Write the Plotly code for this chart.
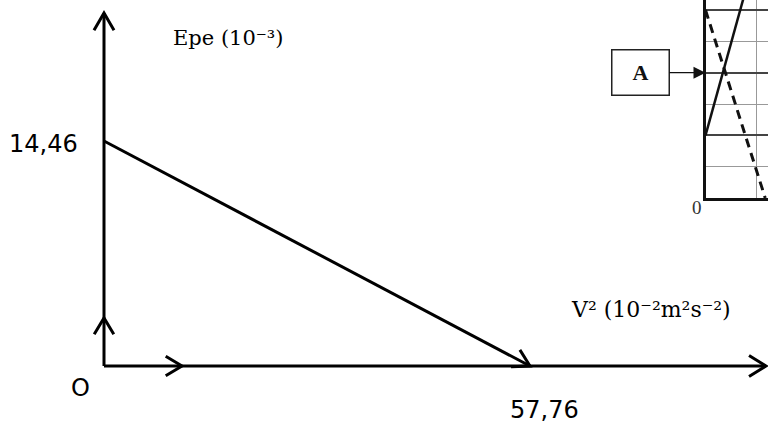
import math
import plotly.graph_objects as go

# ---------------- data ----------------
V2_INTERCEPT = 57.76        # V^2 at Epe = 0  (10^-2 m^2 s^-2)
EPE_INTERCEPT = 14.46       # Epe at V^2 = 0  (10^-3)
line_v2 = [0, V2_INTERCEPT]
line_epe = [EPE_INTERCEPT, 0]

x_title = "V² (10⁻²m²s⁻²)"
y_title = "Epe (10⁻³)"
x_tick_text = "57,76"
y_tick_text = "14,46"
origin_text = "O"

# inset (fragment of another graph, top right)
inset_solid_x = [0, 0.73]
inset_solid_y = [2, 6.33]
inset_dash_x = [0, 1.16]
inset_dash_y = [6, 0]
inset_label = "<b>A</b>"
inset_label_y = 4
inset_zero = "0"

# ---------------- layout helpers ----------------
W, H = 768, 426
OX, OY = 104, 366          # pixel of origin
PX_XI, PY_YI = 530, 141    # pixel of the two intercepts
sx = (PX_XI - OX) / V2_INTERCEPT
sy = (OY - PY_YI) / EPE_INTERCEPT
xr = [-OX / sx, (W - OX) / sx]
yr = [(OY - H) / sy, OY / sy]


def to_data(px, py):
    return (px - OX) / sx, (OY - py) / sy


def to_px(x, y):
    return OX + x * sx, OY - y * sy


def chevron(tip, direction, L=20, a=30):
    """tip in data coords, direction in pixel space (dx, dy), returns data lists"""
    tx, ty = to_px(*tip)
    back = math.atan2(direction[1], direction[0]) + math.pi
    xs, ys = [], []
    for s in (-1, 0, 1):
        if s == 0:
            px, py = tx, ty
        else:
            ang = back + s * math.radians(a)
            px, py = tx + L * math.cos(ang), ty + L * math.sin(ang)
        dx, dy = to_data(px, py)
        xs.append(dx)
        ys.append(dy)
    return xs, ys


def paper(px, py):
    return px / W, 1 - py / H


x_end = to_data(766, 0)[0]
y_end = to_data(0, 13)[1]

fig = go.Figure()
black = dict(color="black", width=3)

# axes lines
fig.add_trace(go.Scatter(x=[0, x_end], y=[0, 0], mode="lines", line=black, hoverinfo="skip"))
fig.add_trace(go.Scatter(x=[0, 0], y=[0, y_end], mode="lines", line=black, hoverinfo="skip"))
# data line
fig.add_trace(go.Scatter(x=line_v2, y=line_epe, mode="lines", line=black, hoverinfo="skip"))

# arrow heads
chevs = [
    chevron((x_end, 0), (1, 0), 20, 32),
    chevron((0, y_end), (0, -1), 20, 30),
    chevron((0, to_data(0, 318)[1]), (0, -1), 19, 31),
    chevron((to_data(182, 0)[0], 0), (1, 0), 19, 31),
]
p0 = to_px(line_v2[0], line_epe[0])
p1 = to_px(line_v2[1], line_epe[1])
chevs.append(chevron((line_v2[1], line_epe[1]), (p1[0] - p0[0], p1[1] - p0[1]), 19, 30))
for xs, ys in chevs:
    fig.add_trace(go.Scatter(x=xs, y=ys, mode="lines", line=black, hoverinfo="skip"))

# inset traces
fig.add_trace(go.Scatter(x=inset_solid_x, y=inset_solid_y, mode="lines",
                         line=dict(color="#111", width=2.5), xaxis="x2", yaxis="y2", hoverinfo="skip"))
fig.add_trace(go.Scatter(x=inset_dash_x, y=inset_dash_y, mode="lines",
                         line=dict(color="#111", width=3, dash="9px,6px"), xaxis="x2", yaxis="y2", hoverinfo="skip"))

sans = dict(family="DejaVu Sans", size=24, color="black")
serif = dict(family="DejaVu Serif", size=21, color="black")
serif_x = dict(family="DejaVu Serif", size=22, color="black")

annotations = []
# tick labels
ax_, ay_ = paper(80, 144)
annotations.append(dict(x=ax_, y=ay_, xref="paper", yref="paper", text=y_tick_text,
                        showarrow=False, xanchor="right", yanchor="middle", font=sans))
ax_, ay_ = paper(544, 410)
annotations.append(dict(x=ax_, y=ay_, xref="paper", yref="paper", text=x_tick_text,
                        showarrow=False, xanchor="center", yanchor="middle", font=sans))
ax_, ay_ = paper(80, 388)
annotations.append(dict(x=ax_, y=ay_, xref="paper", yref="paper", text=origin_text,
                        showarrow=False, xanchor="center", yanchor="middle", font=sans))
# axis titles
ax_, ay_ = paper(171, 38)
annotations.append(dict(x=ax_, y=ay_, xref="paper", yref="paper", text=y_title,
                        showarrow=False, xanchor="left", yanchor="middle", font=serif))
ax_, ay_ = paper(569, 309)
annotations.append(dict(x=ax_, y=ay_, xref="paper", yref="paper", text=x_title,
                        showarrow=False, xanchor="left", yanchor="middle", font=serif_x))
# inset label box with arrow
annotations.append(dict(x=0, y=inset_label_y, xref="x2", yref="y2", text=inset_label,
                        showarrow=True, ax=-65, ay=0, axref="pixel", ayref="pixel",
                        arrowhead=2, arrowsize=2, arrowwidth=1.2, arrowcolor="#111",
                        width=54, height=42, borderpad=1, bordercolor="#222", borderwidth=1.5,
                        bgcolor="white",
                        font=dict(family="Liberation Serif", size=22, color="#111")))
ax_, ay_ = paper(697, 208)
annotations.append(dict(x=ax_, y=ay_, xref="paper", yref="paper", text=inset_zero,
                        showarrow=False, xanchor="center", yanchor="middle",
                        font=dict(family="Liberation Serif", size=19, color="#333")))

ix0, iy0 = paper(705.5, 198)
fig.update_layout(
    width=W, height=H, autosize=False,
    margin=dict(l=0, r=0, t=0, b=0, pad=0),
    paper_bgcolor="white", plot_bgcolor="white",
    showlegend=False,
    xaxis=dict(range=xr, visible=False, domain=[0, 1], fixedrange=True),
    yaxis=dict(range=yr, visible=False, domain=[0, 1], fixedrange=True),
    xaxis2=dict(domain=[ix0, 1], anchor="y2", range=[0, 1.214], showline=True, linewidth=3,
                linecolor="#111", showticklabels=False, ticks="", zeroline=False,
                showgrid=True, gridcolor="#999", gridwidth=1, dtick=1, tick0=0, fixedrange=True),
    yaxis2=dict(domain=[iy0, 1], anchor="x2", range=[0, 6.32], showline=True, linewidth=3,
                linecolor="#111", showticklabels=False, ticks="", zeroline=False,
                showgrid=True, gridcolor="#444", gridwidth=2, dtick=2, tick0=0,
                minor=dict(dtick=1, tick0=0, showgrid=True, gridcolor="#999", gridwidth=1),
                fixedrange=True),
    annotations=annotations,
)

fig.write_html("out.html", config={"displayModeBar": False},
               post_script="document.body.style.margin='0';document.body.style.overflow='hidden';")
